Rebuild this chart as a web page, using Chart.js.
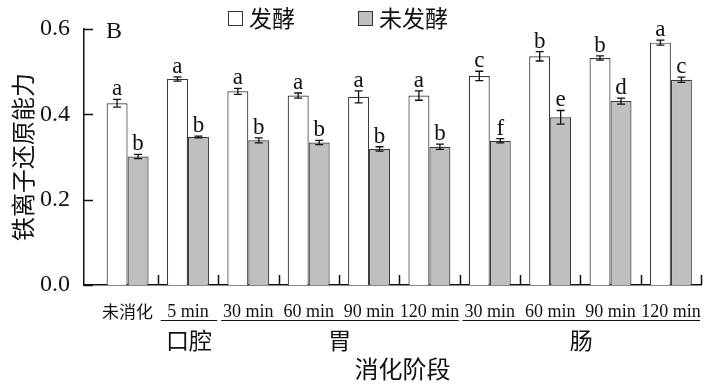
<!DOCTYPE html>
<html>
<head>
<meta charset="utf-8">
<script src="https://cdn.jsdelivr.net/npm/chart.js@4"></script>
<style>
  html, body { margin: 0; padding: 0; background: #fff; }
  canvas { display: block; }
</style>
</head>
<body>
<canvas id="chart" width="709" height="390"></canvas>
<script>
// Digestion stages (x categories)
const categories = ['未消化', '5 min', '30 min', '60 min', '90 min', '120 min', '30 min', '60 min', '90 min', '120 min'];

// Ferric reducing power, fermented vs. unfermented
const fermented      = [0.426, 0.483, 0.454, 0.444, 0.441, 0.444, 0.490, 0.536, 0.532, 0.568];
const fermentedErr   = [0.009, 0.005, 0.007, 0.006, 0.014, 0.011, 0.011, 0.011, 0.005, 0.006];
const unfermented    = [0.301, 0.347, 0.339, 0.334, 0.319, 0.324, 0.338, 0.393, 0.431, 0.481];
const unfermentedErr = [0.005, 0.002, 0.006, 0.005, 0.005, 0.006, 0.005, 0.016, 0.007, 0.006];

// Significance letters
const fermentedLetters   = ['a', 'a', 'a', 'a', 'a', 'a', 'c', 'b', 'b', 'a'];
const unfermentedLetters = ['b', 'b', 'b', 'b', 'b', 'b', 'f', 'e', 'd', 'c'];

// Y axis ticks
const yTicks = [0.0, 0.2, 0.4, 0.6];

// Digestion phase groups (first / last category index)
const groupNames = ['口腔', '胃', '肠'];
const groupStart = [1, 2, 6];
const groupEnd   = [1, 5, 9];

const seriesLabels = ['发酵', '未发酵'];

const SERIF = '"Liberation Serif", "Times New Roman", serif';
const CJK = '"Noto Sans CJK SC", "Noto Sans", sans-serif';
const INK = '#111';

const decorations = {
  id: 'decorations',
  afterDraw(chart) {
    const { ctx, chartArea: area, scales: { x, y } } = chart;
    ctx.save();
    ctx.strokeStyle = INK;
    ctx.fillStyle = INK;

    // error bars and significance letters
    chart.data.datasets.forEach((ds, di) => {
      const meta = chart.getDatasetMeta(di);
      meta.data.forEach((bar, i) => {
        const v = ds.data[i].y;
        const e = ds.errors[i];
        const yHi = y.getPixelForValue(v + e);
        const yLo = y.getPixelForValue(v - e);
        ctx.lineWidth = 1.3;
        ctx.beginPath();
        ctx.moveTo(bar.x, yHi); ctx.lineTo(bar.x, yLo);
        ctx.moveTo(bar.x - 4, yHi); ctx.lineTo(bar.x + 4, yHi);
        ctx.moveTo(bar.x - 4, yLo); ctx.lineTo(bar.x + 4, yLo);
        ctx.stroke();
        ctx.font = '23px ' + SERIF;
        ctx.textAlign = 'center';
        ctx.textBaseline = 'alphabetic';
        ctx.fillText(ds.letters[i], bar.x, yHi - 4);
      });
    });

    // inward tick marks on the y axis
    ctx.lineWidth = 1.5;
    ctx.strokeStyle = INK;
    ctx.beginPath();
    yTicks.forEach(t => {
      const py = Math.round(y.getPixelForValue(t)) + 0.5;
      ctx.moveTo(area.left, py); ctx.lineTo(area.left + 9, py);
    });
    // inward tick marks between categories on the x axis
    categories.forEach((_, i) => {
      const px = Math.round(x.getPixelForValue(i + 0.5)) + 0.5;
      ctx.moveTo(px, area.bottom); ctx.lineTo(px, area.bottom - 10);
    });
    ctx.stroke();

    // digestion phase brackets
    ctx.lineWidth = 1.2;
    ctx.font = '23px ' + CJK;
    ctx.textAlign = 'center';
    ctx.textBaseline = 'middle';
    groupNames.forEach((name, g) => {
      const x0 = x.getPixelForValue(groupStart[g] - 0.5) + 3;
      const x1 = x.getPixelForValue(groupEnd[g] + 0.5) - 1;
      const ly = area.bottom + 35.5;
      ctx.beginPath();
      ctx.moveTo(x0, ly); ctx.lineTo(x1, ly);
      ctx.stroke();
      ctx.fillText(name, (x0 + x1) / 2, area.bottom + 55);
    });

    // x axis title
    ctx.font = '24px ' + CJK;
    ctx.fillText('消化阶段', (area.left + area.right) / 2 + 10, area.bottom + 84);

    // panel letter
    ctx.font = '24px ' + SERIF;
    ctx.textAlign = 'left';
    ctx.textBaseline = 'alphabetic';
    ctx.fillText('B', area.left + 22, area.top + 9);

    // legend
    const legendX = [228, 358];
    ctx.font = '23px ' + CJK;
    ctx.textBaseline = 'middle';
    chart.data.datasets.forEach((ds, di) => {
      const bx = legendX[di] + 0.5, by = 11.5;
      ctx.fillStyle = ds.backgroundColor;
      ctx.fillRect(bx, by, 14, 14);
      ctx.strokeStyle = '#333';
      ctx.lineWidth = 1;
      ctx.strokeRect(bx, by, 14, 14);
      ctx.fillStyle = INK;
      ctx.fillText(ds.label, legendX[di] + 21, 18.5);
    });

    ctx.restore();
  }
};

new Chart(document.getElementById('chart'), {
  type: 'bar',
  data: {
    datasets: [
      {
        label: seriesLabels[0],
        data: fermented.map((v, i) => ({ x: i, y: v })),
        errors: fermentedErr,
        letters: fermentedLetters,
        backgroundColor: '#ffffff',
        borderColor: '#3a3a3a',
        borderWidth: 1.2
      },
      {
        label: seriesLabels[1],
        data: unfermented.map((v, i) => ({ x: i, y: v })),
        errors: unfermentedErr,
        letters: unfermentedLetters,
        backgroundColor: '#bfbfc1',
        borderColor: '#3a3a3a',
        borderWidth: 1.2
      }
    ]
  },
  options: {
    responsive: false,
    devicePixelRatio: 1,
    animation: false,
    categoryPercentage: 0.695,
    barPercentage: 1.0,
    layout: { padding: { top: 29, right: 7.5, left: 0, bottom: 0 } },
    plugins: {
      legend: { display: false },
      tooltip: { enabled: false }
    },
    scales: {
      x: {
        type: 'linear',
        offset: false,
        min: -0.722,
        max: 9.5,
        afterBuildTicks: scale => { scale.ticks = categories.map((_, i) => ({ value: i })); },
        afterFit: scale => { scale.height = 105; },
        grid: { display: false },
        border: { display: true, color: INK, width: 1.5 },
        ticks: {
          autoSkip: false,
          maxRotation: 0,
          padding: 8,
          color: INK,
          callback: value => categories[Math.round(value)],
          font: ctx => ctx.index === 0
            ? { family: CJK, size: 17 }
            : { family: SERIF, size: 18 }
        }
      },
      y: {
        min: 0,
        max: 0.6,
        afterBuildTicks: scale => { scale.ticks = yTicks.map(v => ({ value: v })); },
        afterFit: scale => { scale.width = 84; },
        grid: { display: false },
        border: { display: true, color: INK, width: 1.5 },
        ticks: {
          padding: 6,
          color: INK,
          font: { family: SERIF, size: 24 },
          callback: value => value.toFixed(1)
        },
        title: {
          display: true,
          text: '铁离子还原能力',
          color: INK,
          font: { family: CJK, size: 24 },
          padding: { top: 8, bottom: 0 }
        }
      }
    }
  },
  plugins: [decorations]
});
</script>
</body>
</html>
